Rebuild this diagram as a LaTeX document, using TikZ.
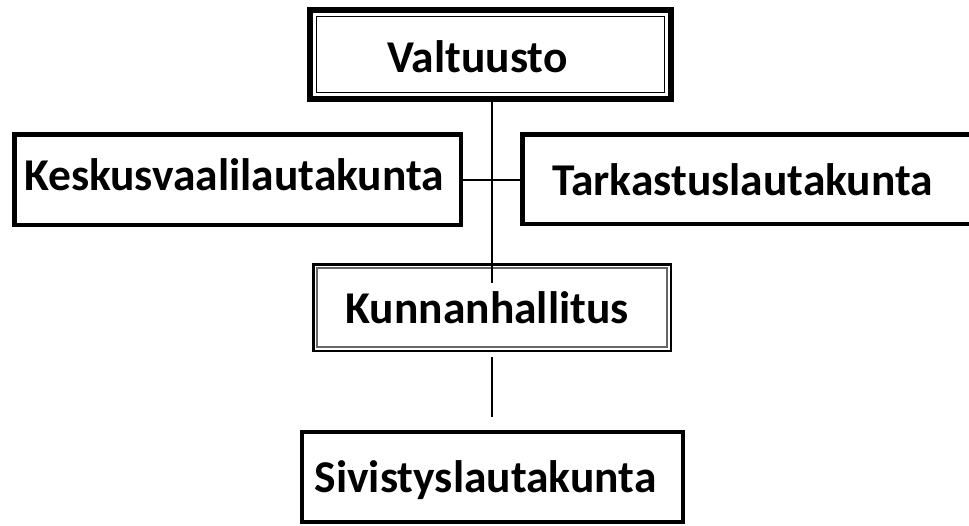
\documentclass[tikz,border=0pt]{standalone}
\usepackage{fontspec}
\setmainfont{Carlito}
\begin{document}
\begin{tikzpicture}[x=1pt,y=-1pt,
  frame/.style={draw=black, fill=white, inner sep=0pt, outer sep=0pt},
  lbl/.style={font=\fontsize{45.5}{54}\selectfont\bfseries, inner sep=0pt, anchor=base},
  conn/.style={draw=black, line width=2pt}]
\useasboundingbox (0,0) rectangle (969,525);
\fill[white] (0,0) rectangle (969,525);
\clip (0,0) rectangle (969,525);

% Valtuusto (double frame)
\node[frame, line width=6pt, minimum width=361pt, minimum height=89pt] (valb) at (490.5,54.5) {};
\draw[line width=1.3pt] ([shift={(6.5,6.5)}]valb.north west) rectangle ([shift={(-6.5,-6.5)}]valb.south east);

% side boards
\node[frame, line width=4.5pt, minimum width=446.5pt, minimum height=90.5pt] (keskb) at (237.5,179.5) {};
\node[frame, line width=4.5pt, minimum width=480pt, minimum height=89.5pt, anchor=west] (tarkb) at (522.25,179) {};

% Kunnanhallitus
\node[frame, line width=2.5pt, minimum width=357.5pt, minimum height=86.5pt] (kunb) at (492,307.5) {};
\draw[black!60, line width=1.8pt] ([shift={(4,4)}]kunb.north west) rectangle ([shift={(-4,-4)}]kunb.south east);

% Sivistyslautakunta
\node[frame, line width=4pt, minimum width=381pt, minimum height=90pt] (sivb) at (492.5,477) {};

% connectors
\coordinate (trunkend) at (492,283);
\draw[conn] (trunkend |- valb.south) -- (trunkend);
\draw[conn] (keskb.east) -- (keskb.east -| tarkb.west);
\coordinate (c1) at (492,357);
\coordinate (c2) at (492,417);
\draw[conn] (c1) -- (c2);

% labels
\node[lbl] (valt) at (477.5,72) {Valtuusto};
\node[lbl] (kesk) at (234,190) {Keskusvaalilautakunta};
\node[lbl] (tark) at (742.5,195) {Tarkastuslautakunta};
\node[lbl] (kunn) at (487,323) {Kunnanhallitus};
\node[lbl] (siv) at (485.5,492) {Sivistyslautakunta};
\end{tikzpicture}
\end{document}
